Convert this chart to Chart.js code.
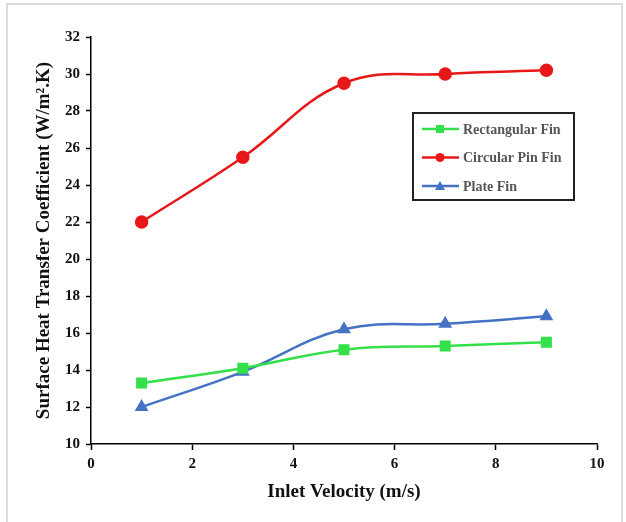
<!DOCTYPE html>
<html>
<head>
<meta charset="utf-8">
<script src="https://cdn.jsdelivr.net/npm/chart.js@4.4.1/dist/chart.umd.min.js"></script>
<style>
  html, body { margin: 0; padding: 0; background: #fff; }
  #wrap { width: 626px; height: 522px; position: relative; }
</style>
</head>
<body>
<div id="wrap"><canvas id="chart" width="626" height="522"></canvas></div>
<script>
// --------------------------
// data
// --------------------------
const velocity = [1, 3, 5, 7, 9];
const rectangularFin = [13.3, 14.1, 15.1, 15.3, 15.5];
const circularPinFin = [22.0, 25.5, 29.5, 30.0, 30.2];
const plateFin = [12.0, 13.9, 16.2, 16.5, 16.9];

const seriesNames = ["Rectangular Fin", "Circular Pin Fin", "Plate Fin"];
const xTicks = [0, 2, 4, 6, 8, 10];
const yTicks = [10, 12, 14, 16, 18, 20, 22, 24, 26, 28, 30, 32];

const xTitle = "Inlet Velocity (m/s)";
const yTitle = "Surface Heat Transfer Coefficient (W/m\u00B2.K)";

const FONT = "'Liberation Serif', 'Times New Roman', serif";

function toPoints(ys) {
  return velocity.map((x, i) => ({ x, y: ys[i] }));
}

// light frame round the figure
const framePlugin = {
  id: "frame",
  beforeDraw(chart) {
    const ctx = chart.ctx;
    ctx.save();
    ctx.strokeStyle = "#dcdcdc";
    ctx.lineWidth = 2;
    ctx.strokeRect(7, 4, 615, 540);
    ctx.restore();
  }
};

// boxed legend inside the plot (built from the datasets)
const boxLegendPlugin = {
  id: "boxLegend",
  afterDatasetsDraw(chart) {
    const ctx = chart.ctx;
    const x0 = 413, y0 = 113, w = 161, h = 87;
    ctx.save();
    ctx.fillStyle = "#fff";
    ctx.fillRect(x0, y0, w, h);
    ctx.strokeStyle = "#222";
    ctx.lineWidth = 2;
    ctx.strokeRect(x0, y0, w, h);

    ctx.font = "bold 14px " + FONT;
    ctx.textBaseline = "middle";
    chart.data.datasets.forEach((ds, i) => {
      const y = y0 + 16 + i * 28.5;
      ctx.strokeStyle = ds.borderColor;
      ctx.lineWidth = 2.5;
      ctx.beginPath();
      ctx.moveTo(x0 + 9, y);
      ctx.lineTo(x0 + 46, y);
      ctx.stroke();
      ctx.fillStyle = ds.backgroundColor;
      const cx = x0 + 27;
      if (ds.pointStyle === "rect") {
        ctx.fillRect(cx - 4, y - 4, 8, 8);
      } else if (ds.pointStyle === "circle") {
        ctx.beginPath();
        ctx.arc(cx, y, 4.5, 0, Math.PI * 2);
        ctx.fill();
      } else {
        ctx.beginPath();
        ctx.moveTo(cx, y - 5);
        ctx.lineTo(cx + 5, y + 4);
        ctx.lineTo(cx - 5, y + 4);
        ctx.closePath();
        ctx.fill();
      }
      ctx.fillStyle = "#555";
      ctx.fillText(ds.label, x0 + 50, y + 1);
    });
    ctx.restore();
  }
};

const ctx = document.getElementById("chart").getContext("2d");

new Chart(ctx, {
  type: "line",
  data: {
    datasets: [
      {
        label: seriesNames[0],
        data: toPoints(rectangularFin),
        borderColor: "#33e04a",
        backgroundColor: "#33e04a",
        pointStyle: "rect",
        pointRadius: 6,
        borderWidth: 2.5,
        tension: 0.4
      },
      {
        label: seriesNames[1],
        data: toPoints(circularPinFin),
        borderColor: "#e81818",
        backgroundColor: "#e81818",
        pointStyle: "circle",
        pointRadius: 5.5,
        borderWidth: 2.5,
        tension: 0.4
      },
      {
        label: seriesNames[2],
        data: toPoints(plateFin),
        borderColor: "#4472c4",
        backgroundColor: "#4472c4",
        pointStyle: "triangle",
        pointRadius: 5.5,
        borderWidth: 2.5,
        tension: 0.4
      }
    ]
  },
  options: {
    responsive: false,
    animation: false,
    layout: { padding: { top: 37, right: 29, left: 0, bottom: 0 } },
    plugins: {
      legend: { display: false },
      tooltip: { enabled: false }
    },
    scales: {
      x: {
        type: "linear",
        min: 0,
        max: 10,
        afterBuildTicks: scale => { scale.ticks = xTicks.map(v => ({ value: v })); },
        afterFit: scale => { scale.height = 78; },
        grid: { drawOnChartArea: false, color: "#000", tickLength: 6, tickWidth: 1.5 },
        border: { color: "#000", width: 1.5 },
        ticks: {
          color: "#111",
          padding: 5,
          font: { family: FONT, size: 15, weight: "bold" }
        },
        title: {
          display: true,
          text: xTitle,
          color: "#111",
          padding: { top: 0, bottom: 19 },
          font: { family: FONT, size: 19, weight: "bold" }
        }
      },
      y: {
        type: "linear",
        min: 10,
        max: 32,
        ticks: {
          stepSize: 1,
          color: "#111",
          padding: 6,
          font: { family: FONT, size: 15, weight: "bold" },
          callback: v => (yTicks.includes(v) ? String(v) : "")
        },
        afterFit: scale => { scale.width = 91; },
        grid: { drawOnChartArea: false, color: "#000", tickLength: 5, tickWidth: 1.5 },
        border: { color: "#000", width: 1.5 },
        title: {
          display: true,
          text: yTitle,
          color: "#111",
          padding: { top: 33, bottom: 0 },
          font: { family: FONT, size: 19, weight: "bold" }
        }
      }
    }
  },
  plugins: [framePlugin, boxLegendPlugin]
});
</script>
</body>
</html>
